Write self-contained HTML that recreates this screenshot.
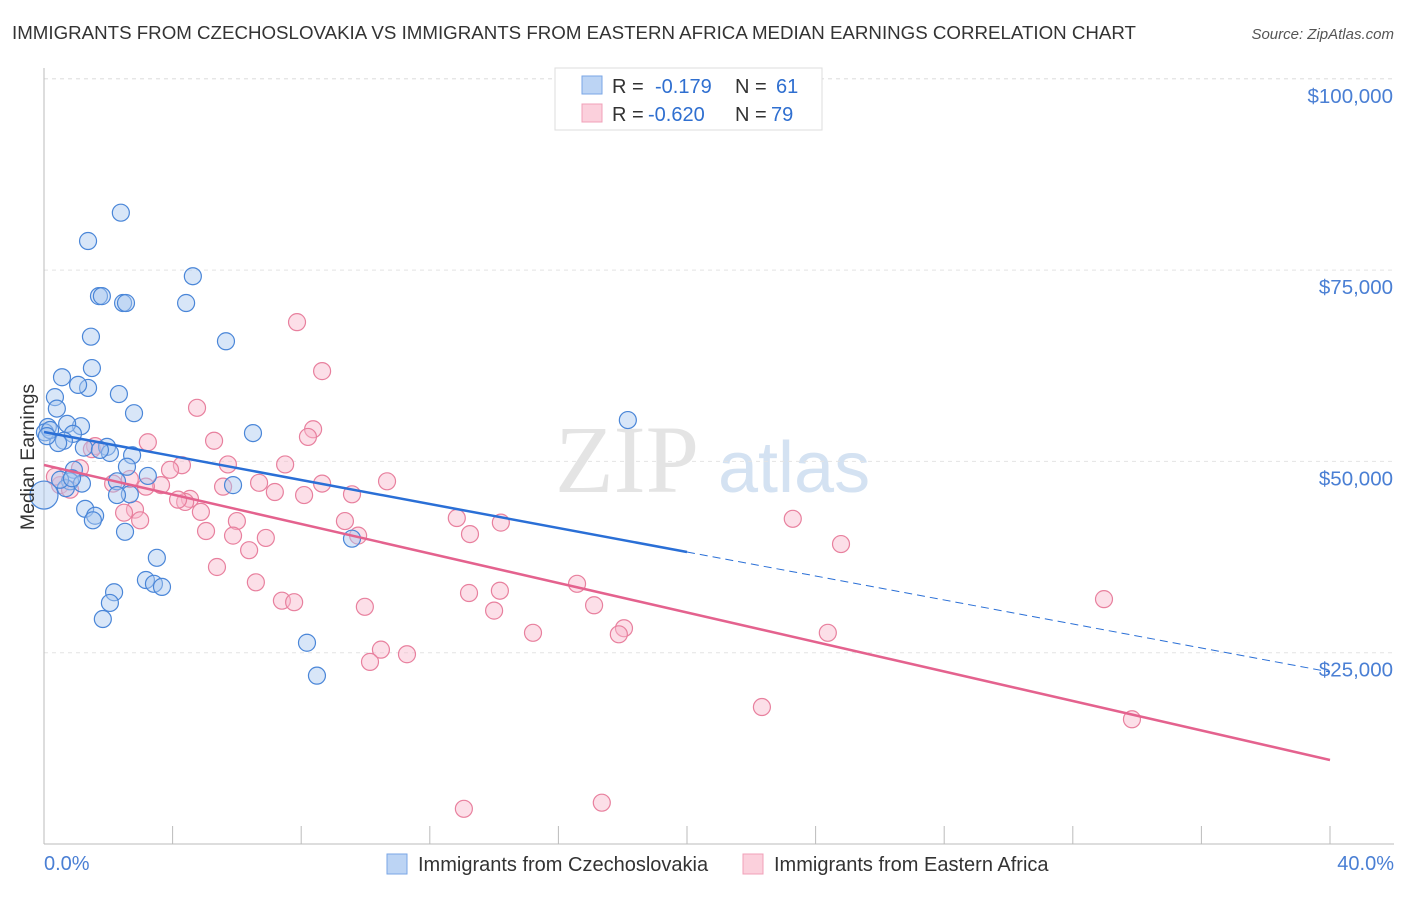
<!DOCTYPE html>
<html><head><meta charset="utf-8"><style>
body{margin:0;background:#fff;font-family:"Liberation Sans",sans-serif;}
</style></head><body>
<svg id="c" width="1406" height="892" xmlns="http://www.w3.org/2000/svg" style="font-family:'Liberation Sans',sans-serif">
<text x="12" y="39" font-size="18" fill="#333" textLength="1124" lengthAdjust="spacingAndGlyphs">IMMIGRANTS FROM CZECHOSLOVAKIA VS IMMIGRANTS FROM EASTERN AFRICA MEDIAN EARNINGS CORRELATION CHART</text>
<text x="1394" y="39" font-size="15" fill="#555" text-anchor="end" font-style="italic">Source: ZipAtlas.com</text>
<text x="555" y="492" font-size="96" fill="#e4e4e4" font-family="Liberation Serif">ZIP</text>
<text x="718" y="492" font-size="72" fill="#d4e2f2">atlas</text>
<g id="grid"></g><g id="marks"></g>
<text transform="translate(34,457) rotate(-90)" font-size="19.5" fill="#333" text-anchor="middle">Median Earnings</text>
<text x="44" y="870" font-size="20" fill="#4a7fd4">0.0%</text>
<text x="1394" y="870" font-size="20" fill="#4a7fd4" text-anchor="end">40.0%</text>
<g>
<rect x="555" y="68" width="267" height="62" fill="#fff" stroke="#ddd"/>
<rect x="582" y="76" width="20" height="18" fill="#bcd4f4" stroke="#7aa6e6"/>
<rect x="582" y="104" width="20" height="18" fill="#fbd0dc" stroke="#f0a0b8"/>
<text x="612" y="93" font-size="20" fill="#333">R =</text>
<text x="655" y="93" font-size="20" fill="#2f6fd0">-0.179</text>
<text x="735" y="93" font-size="20" fill="#333">N =</text>
<text x="776" y="93" font-size="20" fill="#2f6fd0">61</text>
<text x="612" y="121" font-size="20" fill="#333">R =</text>
<text x="648" y="121" font-size="20" fill="#2f6fd0">-0.620</text>
<text x="735" y="121" font-size="20" fill="#333">N =</text>
<text x="771" y="121" font-size="20" fill="#2f6fd0">79</text>
</g>
<g>
<rect x="387" y="854" width="20" height="20" fill="#bcd4f4" stroke="#7aa6e6"/>
<text x="418" y="871" font-size="20" fill="#333">Immigrants from Czechoslovakia</text>
<rect x="743" y="854" width="20" height="20" fill="#fbd0dc" stroke="#f0a0b8"/>
<text x="774" y="871" font-size="20" fill="#333">Immigrants from Eastern Africa</text>
</g>
</svg>
<script>
const yTicks=[25000,50000,75000,100000];
const yTickLabels=["$25,000","$50,000","$75,000","$100,000"];
const blueX=[2.39,1.37,4.63,1.71,1.80,2.46,2.55,4.42,5.66,1.46,1.49,0.56,0.34,1.37,1.06,2.33,0.40,2.80,18.16,0.12,1.15,0.72,0.03,6.50,0.90,0.62,0.44,1.96,1.24,2.74,2.05,2.58,0.93,3.23,0.81,1.18,0.68,5.88,2.27,2.67,2.27,1.28,1.59,1.52,2.52,9.58,3.51,3.17,3.42,3.67,2.18,2.05,1.83,8.18,8.49,0,0.19,0.09,0.50,0.87,1.74];
const blueY=[82.5,78.8,74.2,71.6,71.6,70.7,70.7,70.7,65.7,66.3,62.2,61.0,58.4,59.6,60.0,58.8,56.9,56.3,55.4,54.5,54.6,54.9,53.8,53.7,53.6,52.7,52.4,51.9,51.8,50.8,51.1,49.3,48.9,48.1,47.4,47.1,46.5,46.9,47.4,45.7,45.6,43.8,42.9,42.3,40.8,39.9,37.4,34.5,34.0,33.6,32.9,31.5,29.4,26.3,22.0,45.6,54.1,53.3,47.6,47.8,51.5];
const pinkX=[7.87,8.65,4.76,8.37,8.21,3.23,5.29,1.59,1.49,7.50,4.29,5.72,1.12,3.92,10.67,6.69,8.65,9.58,7.18,8.09,3.64,3.17,2.67,2.15,0.50,0.34,0.81,4.54,4.39,4.17,5.57,4.88,2.83,2.49,2.99,6.00,9.36,12.84,14.21,13.25,9.77,5.04,5.88,6.90,6.38,23.29,24.79,5.38,6.59,16.58,13.22,14.18,7.40,7.78,9.98,17.11,14.00,15.21,18.04,17.88,24.38,32.97,10.48,11.29,10.14,22.33,33.84,13.06,17.35];
const pinkY=[68.2,61.8,57.0,54.2,53.2,52.5,52.7,52.0,51.6,49.6,49.5,49.6,49.1,48.9,47.4,47.2,47.1,45.7,46.0,45.6,46.9,46.7,47.7,47.1,46.9,48.0,46.3,45.1,44.7,45.0,46.7,43.4,43.7,43.3,42.3,42.2,42.2,42.6,42.0,40.5,40.3,40.9,40.3,40.0,38.4,42.5,39.2,36.2,34.2,34.0,32.8,33.1,31.8,31.6,31.0,31.2,30.5,27.6,28.2,27.4,27.6,32.0,25.4,24.8,23.8,17.9,16.3,4.6,5.4];
const blueTrend=[0,53840,20,38160,40,22480];
const pinkTrend=[0,49530,40,10980];
const ns="http://www.w3.org/2000/svg";
const X=v=>44+v/40*1286, Y=v=>844-v/25000*191.3;
const grid=document.getElementById('grid'), marks=document.getElementById('marks');
function mk(tag,at,par){const e=document.createElementNS(ns,tag);for(const k in at)e.setAttribute(k,at[k]);par.appendChild(e);return e;}
let l=mk('line',{x1:44,x2:1394,y1:Y(100000),y2:Y(100000),stroke:'#ddd','stroke-dasharray':'4,4'},grid);


yTicks.forEach((t,i)=>{
 const g=mk('line',{x1:44,x2:1394,y1:Y(t),y2:Y(t),stroke:'#e4e4e4','stroke-dasharray':'4,4'},grid);
 
 
 const tx=mk('text',{x:1393,y:Y(t)+24,'font-size':20.5,fill:'#4a7fd4','text-anchor':'end'},grid);
 tx.textContent=yTickLabels[i];
 
 
});
const ax=mk('line',{x1:44,x2:44,y1:68,y2:844,stroke:'#bbb'},grid);


const bx=mk('line',{x1:44,x2:1394,y1:844,y2:844,stroke:'#bbb'},grid);


for(let p=0;p<=40;p+=4){const t=mk('line',{x1:X(p),x2:X(p),y1:826,y2:844,stroke:'#bbb'},grid);
 
 }
function dots(xs,ys,fill,stroke,name){xs.forEach((x,i)=>{
 const c=mk('circle',{cx:X(x),cy:Y(ys[i]*1000),r:(x===0&&i>=xs.length-6)?(name==='pink-point'?18:14):8.5,fill:fill,'fill-opacity':0.45,stroke:stroke,'stroke-width':1.2},marks);
 
 });}
dots(pinkX,pinkY,'#f8b8cb','#e8809e','pink-point');
dots(blueX,blueY,'#a9c8f0','#4a86d8','blue-point');
let t1=mk('line',{x1:X(blueTrend[0]),y1:Y(blueTrend[1]),x2:X(blueTrend[2]),y2:Y(blueTrend[3]),stroke:'#2a6fd6','stroke-width':2.5},marks);


let t2=mk('line',{x1:X(blueTrend[2]),y1:Y(blueTrend[3]),x2:X(blueTrend[4]),y2:Y(blueTrend[5]),stroke:'#2a6fd6','stroke-width':1,'stroke-dasharray':'8,5'},marks);


let t3=mk('line',{x1:X(pinkTrend[0]),y1:Y(pinkTrend[1]),x2:X(pinkTrend[2]),y2:Y(pinkTrend[3]),stroke:'#e4628e','stroke-width':2.5},marks);


</script>
</body></html>
